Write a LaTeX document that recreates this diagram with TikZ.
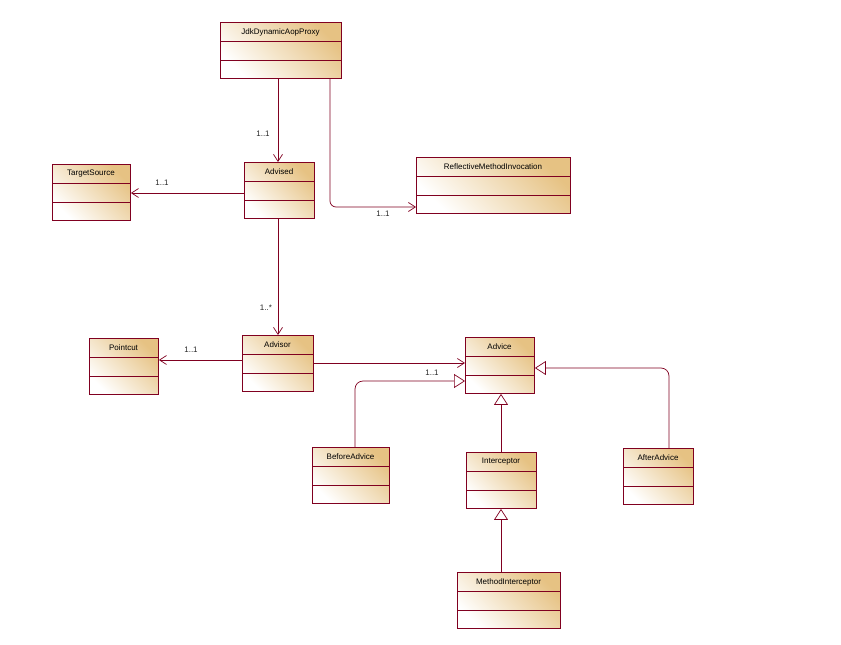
\documentclass[tikz,border=0pt]{standalone}
\usepackage{fontspec}
\setmainfont{Liberation Sans}
\usetikzlibrary{arrows.meta,calc}
\definecolor{bord}{HTML}{800020}
\definecolor{tanf}{HTML}{E6C283}
\tikzset{
  cls/.style={draw=bord,line width=0.9pt,left color=white,right color=tanf,shading angle=135,inner sep=0,anchor=north west},
  con/.style={draw=bord,line width=0.7pt},
  assoc/.style={con,-{Straight Barb[length=7pt,width=9pt]}},
  gen/.style={con,-{Triangle[open,length=11pt,width=14pt,fill=white]}},
  lbl/.style={font=\fontsize{8}{9}\selectfont,text=black!85,inner sep=1pt},
}
\newcommand\umlclass[6]{%
  \node[cls,minimum width=#4-#2,minimum height=#5-#3] (#1) at (#2,#3) {};
  \draw[bord,line width=0.7pt] (#2,#3+19) -- (#4,#3+19) (#2,#3+38) -- (#4,#3+38);
  \node[font=\fontsize{8}{9}\selectfont] (#1t) at ({(#2+#4)/2},#3+10) {#6};
}
\begin{document}
\begin{tikzpicture}[x=1pt,y=-1pt]
\useasboundingbox (0,0) rectangle (841,645);
\umlclass{proxy}{220}{22}{341}{78}{JdkDynamicAopProxy}
\umlclass{advised}{244}{162}{314}{218}{Advised}
\umlclass{ts}{52}{164}{130}{220}{TargetSource}
\umlclass{rmi}{416}{157}{570}{213}{ReflectiveMethodInvocation}
\umlclass{pc}{89}{338}{158}{394}{Pointcut}
\umlclass{advisor}{242}{335}{313}{391}{Advisor}
\umlclass{advice}{465}{337}{534}{393}{Advice}
\umlclass{before}{312}{447}{389}{503}{BeforeAdvice}
\umlclass{inter}{466}{452}{536}{508}{Interceptor}
\umlclass{after}{623}{448}{693}{504}{AfterAdvice}
\umlclass{mi}{457}{572}{560}{628}{MethodInterceptor}

\draw[assoc] (proxy.south -| 278,0) -- (advised.north -| 278,0);
\node[lbl] at (263,134) {1..1};
\draw[assoc,rounded corners=6pt] (proxy.south -| 330,0) -- (330,207) -- (rmi.west |- 0,207);
\node[lbl] at (383,214) {1..1};
\draw[assoc] (advised.west |- 0,193) -- (ts.east |- 0,193);
\node[lbl] at (162,183) {1..1};
\draw[assoc] (advised.south -| 278,0) -- (advisor.north -| 278,0);
\node[lbl] at (266,308) {1..*};
\draw[assoc] (advisor.west |- 0,360) -- (pc.east |- 0,360);
\node[lbl] at (191,350) {1..1};
\draw[assoc] (advisor.east |- 0,363) -- (advice.west |- 0,363);
\node[lbl] at (432,373) {1..1};
\draw[gen,rounded corners=8pt] (before.north -| 355,0) -- (355,381) -- (advice.west |- 0,381);
\draw[gen] (inter.north -| 501,0) -- (advice.south -| 501,0);
\draw[gen] (mi.north -| 501,0) -- (inter.south -| 501,0);
\draw[gen,rounded corners=8pt] (after.north -| 669,0) -- (669,368) -- (advice.east |- 0,368);
\end{tikzpicture}
\end{document}
